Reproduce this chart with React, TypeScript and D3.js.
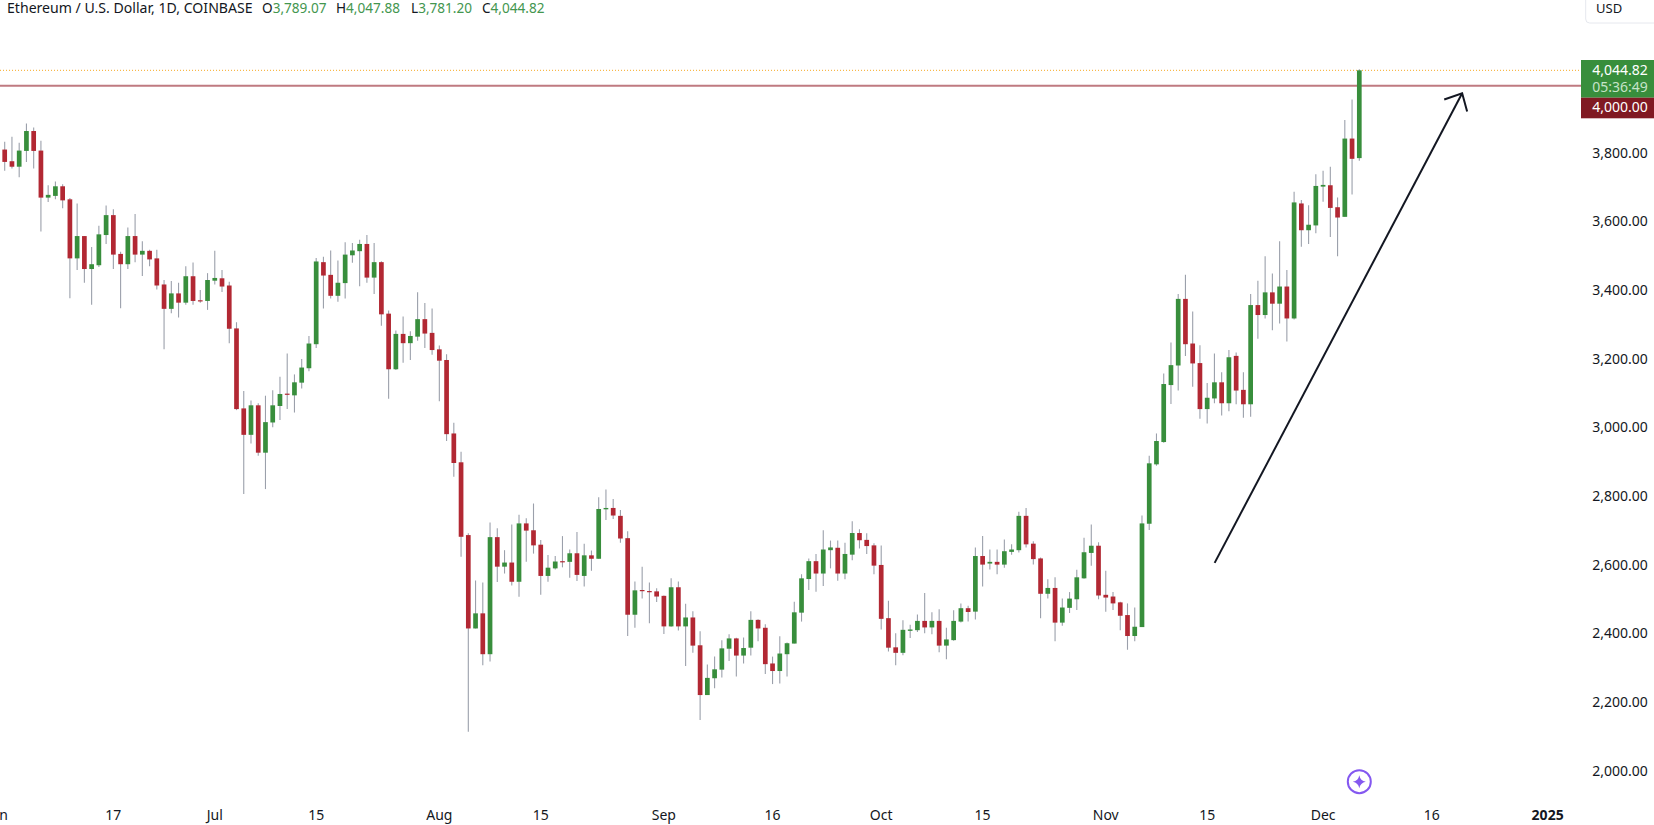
import React from "react";
import * as d3 from "d3";

const opens = [
  3814,3780,3764,3810,3868,3811,3674,3679,3707,3669,
  3497,3562,3466,3477,3565,3623,3510,3480,3562,3508,
  3519,3497,3421,3350,3395,3368,3445,3375,3373,3432,
  3439,3418,3293,3060,2983,3069,2931,3019,3067,3103,
  3098,3135,3177,3247,3486,3449,3388,3425,3506,3518,
  3539,3441,3486,3336,3174,3277,3250,3269,3320,3280,
  3232,3201,2987,2903,2691,2419,2463,2344,2685,2599,
  2611,2555,2725,2705,2663,2572,2594,2615,2613,2638,
  2572,2632,2622,2766,2770,2747,2682,2459,2531,2528,
  2527,2514,2425,2539,2425,2451,2370,2225,2274,2299,
  2360,2390,2340,2363,2444,2421,2317,2295,2344,2375,
  2465,2563,2615,2579,2647,2654,2579,2634,2697,2677,
  2661,2604,2449,2364,2348,2412,2414,2441,2422,2441,
  2369,2385,2439,2478,2468,2630,2608,2613,2605,2642,
  2647,2747,2666,2623,2520,2537,2436,2479,2504,2565,
  2639,2660,2517,2512,2495,2458,2397,2423,2724,2897,
  2962,3128,3185,3379,3249,3192,3058,3089,3136,3075,
  3213,3114,3072,3361,3332,3398,3365,3415,3322,3657,
  3579,3593,3706,3710,3646,3618,3846,3789.07,
];
const highs = [
  3837,3851,3834,3890,3878,3840,3710,3721,3713,3673,
  3657,3562,3530,3592,3651,3640,3516,3587,3626,3547,
  3522,3522,3434,3431,3426,3474,3485,3405,3454,3519,
  3463,3429,3311,3111,3083,3075,3097,3113,3152,3220,
  3159,3204,3271,3498,3502,3520,3491,3544,3542,3551,
  3565,3542,3489,3345,3287,3328,3285,3398,3367,3351,
  3243,3218,3018,2934,2696,2559,2553,2728,2711,2647,
  2722,2750,2740,2783,2677,2633,2630,2688,2649,2700,
  2666,2646,2801,2824,2796,2764,2702,2556,2599,2553,
  2536,2515,2565,2556,2491,2469,2411,2314,2337,2385,
  2402,2392,2393,2469,2446,2431,2337,2396,2378,2497,
  2577,2623,2636,2705,2675,2675,2669,2731,2708,2696,
  2667,2661,2500,2405,2443,2430,2460,2522,2466,2475,
  2421,2472,2492,2485,2655,2688,2649,2649,2678,2664,
  2759,2770,2673,2626,2562,2568,2506,2525,2590,2683,
  2722,2670,2587,2525,2497,2492,2480,2748,2922,2987,
  3162,3252,3393,3449,3342,3244,3134,3220,3165,3230,
  3223,3165,3393,3432,3503,3453,3547,3463,3691,3667,
  3652,3742,3752,3764,3674,3900,3960,4047.88,
];
const lows = [
  3752,3759,3733,3778,3759,3575,3661,3669,3643,3381,
  3463,3426,3362,3472,3539,3466,3352,3466,3486,3446,
  3474,3406,3232,3337,3325,3362,3362,3368,3347,3421,
  3399,3250,3055,2811,2958,2922,2825,3005,3026,3058,
  3048,3118,3168,3236,3351,3380,3371,3380,3484,3416,
  3426,3393,3301,3088,3172,3193,3201,3257,3236,3216,
  3081,2965,2861,2628,2118,2419,2312,2323,2554,2579,
  2544,2511,2613,2637,2517,2555,2591,2597,2567,2557,
  2541,2587,2622,2735,2738,2669,2397,2421,2506,2434,
  2496,2403,2424,2413,2310,2348,2152,2225,2245,2276,
  2324,2279,2317,2340,2382,2286,2257,2259,2279,2375,
  2439,2531,2526,2543,2594,2558,2562,2618,2652,2636,
  2577,2416,2352,2312,2341,2391,2409,2405,2402,2350,
  2329,2383,2436,2439,2445,2541,2591,2577,2596,2634,
  2640,2655,2605,2449,2506,2382,2427,2464,2473,2564,
  2602,2504,2468,2473,2414,2357,2382,2423,2706,2893,
  2960,3073,3112,3213,3123,3030,3016,3075,3039,3052,
  3072,3033,3036,3263,3322,3288,3307,3255,3319,3531,
  3539,3570,3662,3559,3503,3618,3683,3781.2,
];
const closes = [
  3778,3764,3811,3868,3810,3674,3682,3707,3666,3497,
  3562,3466,3480,3567,3623,3508,3480,3562,3508,3519,
  3494,3418,3350,3395,3368,3445,3373,3372,3434,3440,
  3415,3292,3058,2983,3069,2931,3020,3069,3102,3100,
  3136,3179,3249,3488,3447,3388,3426,3508,3520,3539,
  3441,3486,3334,3174,3277,3250,3271,3320,3278,3230,
  3199,2985,2901,2686,2419,2463,2344,2685,2599,2611,
  2555,2725,2704,2661,2572,2596,2614,2613,2638,2575,
  2632,2622,2767,2770,2748,2681,2459,2530,2529,2526,
  2512,2425,2539,2425,2451,2369,2225,2275,2300,2361,
  2390,2340,2362,2444,2419,2315,2295,2346,2376,2466,
  2565,2615,2579,2649,2655,2579,2636,2697,2676,2659,
  2602,2447,2363,2348,2415,2416,2441,2422,2441,2369,
  2387,2441,2478,2467,2630,2605,2613,2605,2644,2649,
  2747,2664,2621,2520,2537,2436,2480,2506,2568,2641,
  2660,2515,2509,2492,2456,2397,2424,2725,2900,2965,
  3131,3186,3379,3247,3191,3058,3091,3136,3075,3209,
  3112,3072,3361,3332,3398,3365,3415,3322,3660,3579,
  3595,3708,3711,3644,3616,3846,3787,4044.82,
];

const priceTicks = [3800, 3600, 3400, 3200, 3000, 2800, 2600, 2400, 2200, 2000];
const dayTickIndex = [-1, 15, 29, 43, 60, 74, 91, 106, 121, 135, 152, 166, 182, 197, 213];
const dayTickLabel = ["Jun", "17", "Jul", "15", "Aug", "15", "Sep", "16", "Oct", "15", "Nov", "15", "Dec", "16", "2025"];
const levelPrice = 4000;
const lastPrice = 4044.82;
const arrowTail: [number, number] = [167.03, 2610];
const arrowTip: [number, number] = [201.2, 3978];
const ohlcLabels = [
  ["O", "3,789.07"],
  ["H", "4,047.88"],
  ["L", "3,781.20"],
  ["C", "4,044.82"],
];

const W = 1654;
const H = 825;
const GREEN = "#388e3c";
const RED = "#b22833";
const INK = "#131722";
const FONT = "'Noto Sans', 'Open Sans', sans-serif";
const legendX = [262, 336, 411, 482];

const x = d3.scaleLinear().domain([0, 187]).range([4.7, 1359.3]);
const y = d3.scaleLinear().domain([2000, 4000]).range([772.3, 85.7]);
const fmt = d3.format(",.2f");

export default function App() {
  const bodyW = 4.7;
  const ax0 = x(arrowTail[0]);
  const ay0 = y(arrowTail[1]);
  const ax1 = x(arrowTip[0]);
  const ay1 = y(arrowTip[1]);
  const ang = Math.atan2(ay0 - ay1, ax0 - ax1);
  const barb = (d: number) => [ax1 + 19 * Math.cos(ang + d), ay1 + 19 * Math.sin(ang + d)];
  const [b1x, b1y] = barb(0.75);
  const [b2x, b2y] = barb(-0.75);
  const arrowLine = d3.line()([[ax0, ay0], [ax1, ay1]]) ?? "";
  const arrowHead = d3.line()([[b1x, b1y], [ax1, ay1], [b2x, b2y]]) ?? "";
  const iconX = x(187);
  const iconY = 781.7;

  return (
    <svg
      width={W}
      height={H}
      viewBox={`0 0 ${W} ${H}`}
      style={{ position: "fixed", left: 0, top: 0, display: "block", background: "#fff", fontFamily: FONT }}
    >
      <clipPath id="pane">
        <rect x={0} y={0} width={1581} height={H} />
      </clipPath>

      <g clipPath="url(#pane)">
        <line x1={0} x2={1581} y1={y(lastPrice)} y2={y(lastPrice)} stroke="#f7a823" strokeWidth={1} strokeDasharray="1 2" />
        <line x1={0} x2={1581} y1={y(levelPrice)} y2={y(levelPrice)} stroke="#bf7a80" strokeWidth={2} />

        {opens.map((o, i) => {
          const c = closes[i];
          const up = c >= o;
          const top = y(Math.max(o, c));
          const bot = y(Math.min(o, c));
          return (
            <g key={i}>
              <line x1={x(i)} x2={x(i)} y1={y(highs[i])} y2={y(lows[i])} stroke="#9ba0ab" strokeWidth={1.1} />
              <rect
                x={x(i) - bodyW / 2}
                y={top}
                width={bodyW}
                height={Math.max(bot - top, 1.2)}
                fill={up ? GREEN : RED}
              />
            </g>
          );
        })}

        <path d={arrowLine} fill="none" stroke={INK} strokeWidth={2} />
        <path d={arrowHead} fill="none" stroke={INK} strokeWidth={2} strokeLinejoin="miter" />

        <circle cx={iconX} cy={iconY} r={11.5} fill="#fff" stroke="#8458f0" strokeWidth={2} />
        <path
          d={`M${iconX} ${iconY - 6.5}Q${iconX + 1} ${iconY - 1} ${iconX + 6.5} ${iconY}Q${iconX + 1} ${iconY + 1} ${iconX} ${iconY + 6.5}Q${iconX - 1} ${iconY + 1} ${iconX - 6.5} ${iconY}Q${iconX - 1} ${iconY - 1} ${iconX} ${iconY - 6.5}Z`}
          fill="#8458f0"
        />
      </g>

      {/* legend */}
      <text x={7} y={13} fontSize={14.1} fill={INK}>Ethereum / U.S. Dollar, 1D, COINBASE</text>
      {ohlcLabels.map(([k, v], i) => (
        <text key={k} x={legendX[i]} y={13} fontSize={13.6} fill={INK}>
          {k}
          <tspan fill="#43964f">{v}</tspan>
        </text>
      ))}

      {/* unit button */}
      <rect x={1585.7} y={-6} width={80} height={29} rx={4} fill="#fff" stroke="#e6e8ee" strokeWidth={1} />
      <text x={1596} y={13} fontSize={13} fill={INK}>USD</text>

      {/* price axis */}
      {priceTicks.map((p) => (
        <text key={p} x={1647.7} y={y(p) - 1.7} dy="0.35em" textAnchor="end" fontSize={14} fill={INK}>
          {fmt(p)}
        </text>
      ))}

      {/* last price and level tags */}
      <rect x={1581} y={60} width={73} height={37.7} fill={GREEN} />
      <rect x={1581} y={97.7} width={73} height={20.6} fill="#801922" />
      <text x={1647.7} y={70} dy="0.35em" textAnchor="end" fontSize={14} fill="#fff">{fmt(lastPrice)}</text>
      <text x={1647.7} y={87} dy="0.35em" textAnchor="end" fontSize={14} fill="#c6e3c8">05:36:49</text>
      <text x={1647.7} y={107} dy="0.35em" textAnchor="end" fontSize={14} fill="#fff">{fmt(levelPrice)}</text>

      {/* time axis */}
      {dayTickIndex.map((d, i) => (
        <text
          key={d}
          x={x(d)}
          y={815}
          dy="0.35em"
          textAnchor="middle"
          fontSize={14}
          fontWeight={dayTickLabel[i] === "2025" ? 700 : 400}
          fill={INK}
        >
          {dayTickLabel[i]}
        </text>
      ))}
    </svg>
  );
}
